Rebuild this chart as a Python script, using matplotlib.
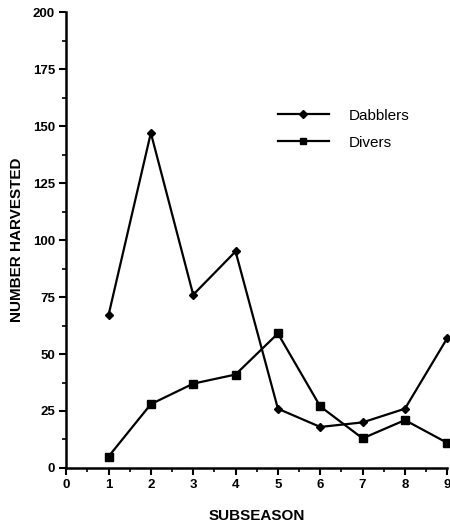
import numpy as np
import matplotlib
matplotlib.use('Agg')
import matplotlib.pyplot as plt
from matplotlib.ticker import MultipleLocator

plt.rcParams['font.family'] = ['Liberation Sans', 'DejaVu Sans']

subseason = [1, 2, 3, 4, 5, 6, 7, 8, 9]
dabblers = [67, 147, 76, 95, 26, 18, 20, 26, 57]
divers = [5, 28, 37, 41, 59, 27, 13, 21, 11]

fig = plt.figure(figsize=(4.5, 5.27), dpi=100)
ax = fig.add_axes([0.147, 0.112, 0.847, 0.865])

ax.plot(subseason, dabblers, color='black', lw=1.6, marker='D', ms=4.5,
        clip_on=False, label='Dabblers')
ax.plot(subseason, divers, color='black', lw=1.6, marker='s', ms=5.5,
        clip_on=False, label='Divers')

ax.set_xlim(0, 9)
ax.set_ylim(0, 200)
ax.xaxis.set_major_locator(MultipleLocator(1))
ax.xaxis.set_minor_locator(MultipleLocator(0.5))
ax.yaxis.set_major_locator(MultipleLocator(25))
ax.yaxis.set_minor_locator(MultipleLocator(12.5))

for s in ['top', 'right']:
    ax.spines[s].set_visible(False)
for s in ['left', 'bottom']:
    ax.spines[s].set_linewidth(1.8)

ax.tick_params(which='major', direction='out', length=5, width=1.5,
               labelsize=9.5, pad=3)
ax.tick_params(which='minor', direction='out', length=3, width=1.2)
for lab in ax.get_xticklabels() + ax.get_yticklabels():
    lab.set_fontweight('bold')

ax.set_xlabel('SUBSEASON', fontsize=11, fontweight='bold', labelpad=13)
ax.set_ylabel('NUMBER HARVESTED', fontsize=11, fontweight='bold', labelpad=6)

leg = ax.legend(loc='upper left', bbox_to_anchor=(0.52, 0.818), frameon=False,
                fontsize=11, handlelength=3.3, handletextpad=1.3,
                labelspacing=0.85, markerscale=0.9)

fig.savefig('out.png', dpi=100)
